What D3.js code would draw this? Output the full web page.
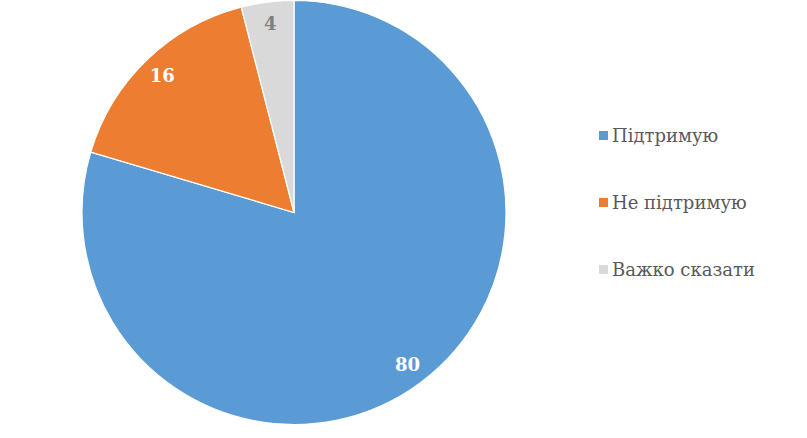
<!DOCTYPE html>
<html><head><meta charset="utf-8">
<script src="https://cdn.jsdelivr.net/npm/d3@7"></script>
<style>body{margin:0;background:#fff} text{font-family:"DejaVu Serif","Liberation Serif",serif}</style>
</head><body>
<svg id="c" width="807" height="438"></svg>
<script>
const categories = ["Підтримую", "Не підтримую", "Важко сказати"];
const values = [79.6, 16.4, 4.0];
const colors = ["#5b9bd5", "#ed7d31", "#d9d9d9"];
const labelColors = ["#ffffff", "#ffffff", "#7f7f7f"];

const svg = d3.select("#c");
const cx = 294, cy = 212.5, R = 212;
const pie = d3.pie().sort(null).value(d => d)(values);
const arc = d3.arc().innerRadius(0).outerRadius(R);
const labelArc = d3.arc().innerRadius(190).outerRadius(190);
const g = svg.append("g").attr("transform", `translate(${cx},${cy})`);
g.selectAll("path").data(pie).join("path")
  .attr("d", arc).attr("fill", (d,i) => colors[i])
  .attr("stroke", "#fff").attr("stroke-width", 1.2);
g.selectAll("text").data(pie).join("text")
  .attr("transform", d => `translate(${labelArc.centroid(d)})`)
  .attr("text-anchor", "middle").attr("dy", "0.35em")
  .attr("font-weight", "bold").attr("font-size", 18)
  .attr("fill", (d,i) => labelColors[i])
  .text(d => Math.round(d.data));

const leg = svg.append("g");
const ly = d3.scalePoint().domain(categories).range([136, 270]);
categories.forEach((c,i) => {
  leg.append("rect").attr("x", 599).attr("y", ly(c) - 5).attr("width", 9).attr("height", 9).attr("fill", colors[i]);
  leg.append("text").attr("x", 612).attr("y", ly(c)).attr("dy", "0.35em")
    .attr("font-size", 18).attr("fill", "#595959").text(c);
});
</script>
</body></html>
